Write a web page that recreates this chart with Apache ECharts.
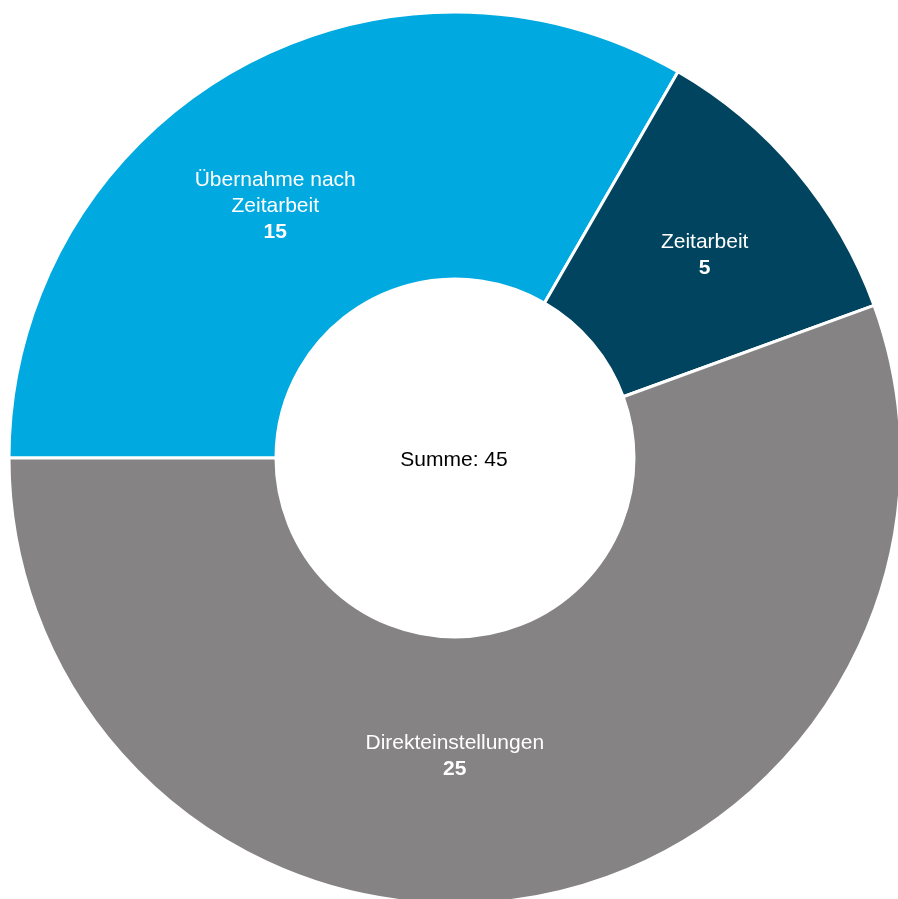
<!DOCTYPE html>
<html>
<head>
<meta charset="utf-8">
<script src="https://cdn.jsdelivr.net/npm/echarts@6/dist/echarts.min.js"></script>
<style>
  html, body { margin: 0; padding: 0; background: #fff; }
  #chart { width: 898px; height: 899px; }
</style>
</head>
<body>
<div id="chart"></div>
<script>
// Segments in clockwise order, starting at 9 o'clock
const categories = ['Übernahme nach\nZeitarbeit', 'Zeitarbeit', 'Direkteinstellungen'];
const values = [15, 5, 25];
const colors = ['#00a9df', '#00445f', '#858384'];

const total = values.reduce((a, b) => a + b, 0);
const fontFamily = '"Liberation Sans", Arial, Helvetica, sans-serif';

// Small nudges of each inside label from its default anchor
const labelNudge = [[-22, 21], [8, 0], [-55, -13]];

const chart = echarts.init(document.getElementById('chart'), null, { renderer: 'canvas' });

chart.setOption({
  animation: false,
  series: [{
    type: 'pie',
    center: [455, 458],
    radius: [179, 446],
    startAngle: 180,
    clockwise: true,
    avoidLabelOverlap: false,
    itemStyle: { borderColor: '#ffffff', borderWidth: 3 },
    label: {
      show: true,
      position: 'inside',
      color: '#ffffff',
      fontFamily: fontFamily,
      fontSize: 21,
      lineHeight: 26,
      formatter: p => p.name + '\n{v|' + p.value + '}',
      rich: {
        v: { fontWeight: 'bold', fontSize: 21, lineHeight: 26, color: '#ffffff', fontFamily: fontFamily }
      }
    },
    labelLine: { show: false },
    labelLayout: p => ({ dx: labelNudge[p.dataIndex][0], dy: labelNudge[p.dataIndex][1] }),
    emphasis: { disabled: true },
    data: categories.map((name, i) => ({
      name: name,
      value: values[i],
      itemStyle: { color: colors[i] }
    }))
  }],
  graphic: [{
    type: 'text',
    x: 454,
    y: 460,
    style: {
      text: 'Summe: ' + total,
      fill: '#000000',
      font: '21px ' + fontFamily,
      align: 'center',
      verticalAlign: 'middle'
    }
  }]
});
</script>
</body>
</html>
